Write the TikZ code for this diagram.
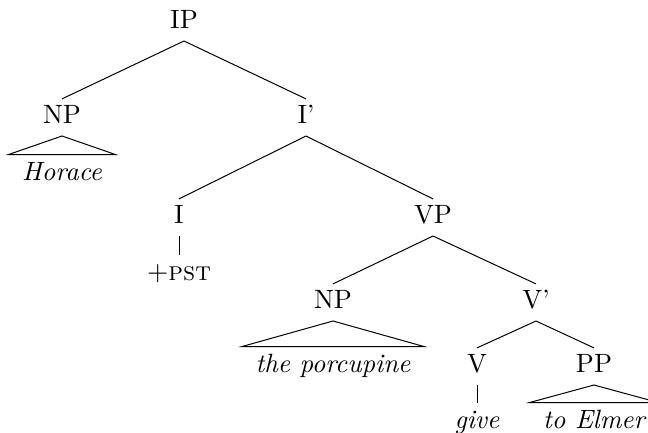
\documentclass[tikz,border=0pt]{standalone}
\begin{document}
\fontsize{10.6}{12.7}\selectfont
\begin{tikzpicture}[x=0.4pt,y=-0.4pt,
  cat/.style={anchor=base,inner xsep=1pt,inner ysep=2.4pt,text height=7.24pt,text depth=2.4pt},
  leaf/.style={anchor=base,inner xsep=5.2pt,inner ysep=2.6pt,text height=7.4pt,text depth=0pt,font=\itshape}]
\useasboundingbox (0,0) rectangle (648,433);
% categories
\node[cat] (ip) at (184,28.5) {IP};
\node[cat] (np1) at (62,123.5) {NP};
\node[cat] (ibar) at (306,123.5) {I'};
\node[cat] (i) at (179,223.5) {I};
\node[cat] (vp) at (433,223.5) {VP};
\node[cat] (np2) at (333,308.5) {NP};
\node[cat] (vbar) at (536,308.5) {V'};
\node[cat] (v) at (477,372.5) {V};
\node[cat] (pp) at (594,372.5) {PP};
% leaves
\node[leaf] (horace) at (62,180) {Horace};
\node[leaf,font=\upshape] (pst) at (179,280) {$+$\textsc{pst}};
\node[leaf] (porc) at (333,372) {the porcupine};
\node[leaf] (give) at (477,428) {give};
\node[leaf] (elmer) at (594,428) {to Elmer};
% branches
\draw (ip.south) -- (np1.north);
\draw (ip.south) -- (ibar.north);
\draw (ibar.south) -- (i.north);
\draw (ibar.south) -- (vp.north);
\draw (vp.south) -- (np2.north);
\draw (vp.south) -- (vbar.north);
\draw (vbar.south) -- (v.north);
\draw (vbar.south) -- (pp.north);
\draw (i.south) -- (pst.north);
\draw (v.south) -- (give.north);
% triangles
\draw (np1.south) -- (horace.north east) -- (horace.north west) -- cycle;
\draw (np2.south) -- (porc.north east) -- (porc.north west) -- cycle;
\draw (pp.south) -- (elmer.north east) -- (elmer.north west) -- cycle;
\end{tikzpicture}
\end{document}
